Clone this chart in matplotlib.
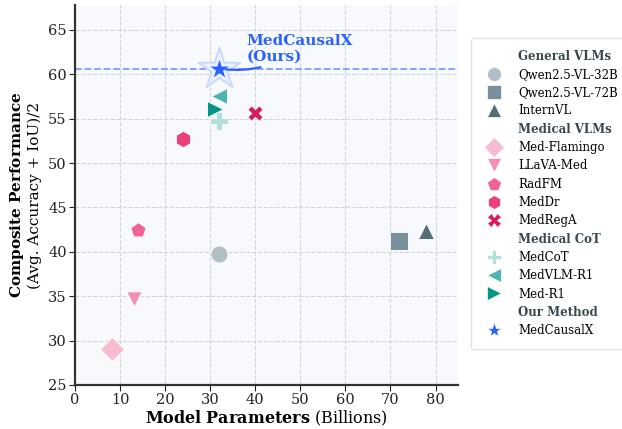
import matplotlib
matplotlib.use("Agg")
import matplotlib.pyplot as plt
from matplotlib.lines import Line2D

# data
groups = ["General VLMs", "Medical VLMs", "Medical CoT", "Our Method"]
models = [
    ["Qwen2.5-VL-32B", "Qwen2.5-VL-72B", "InternVL"],
    ["Med-Flamingo", "LLaVA-Med", "RadFM", "MedDr", "MedRegA"],
    ["MedCoT", "MedVLM-R1", "Med-R1"],
    ["MedCausalX"],
]
params = [
    [32, 72, 78],
    [8.3, 13, 14, 24, 40],
    [32, 32, 31],
    [32],
]
scores = [
    [39.8, 41.2, 42.3],
    [29.1, 34.7, 42.5, 52.7, 55.6],
    [54.8, 57.6, 56.1],
    [60.6],
]
markers = [
    ["o", "s", "^"],
    ["D", "v", "p", "h", "X"],
    ["P", "<", ">"],
    ["*"],
]
colors = [
    ["#b0bec5", "#78909c", "#546e7a"],
    ["#f8bbd0", "#f48fb1", "#f06292", "#ec407a", "#d81b60"],
    ["#b2dfdb", "#4db6ac", "#009688"],
    ["#2962ff"],
]
sizes = {"o": 150, "s": 150, "^": 130, "D": 150, "v": 120, "p": 130,
         "h": 140, "X": 120, "P": 150, "<": 130, ">": 130, "*": 260}

plt.rcParams['font.family'] = 'serif'
plt.rcParams['font.serif'] = ['DejaVu Serif']
plt.rcParams['mathtext.fontset'] = 'dejavuserif'

fig = plt.figure(figsize=(6.22, 4.29), dpi=100)
ax = fig.add_axes([0.1206, 0.1026, 0.6158, 0.8854])
ax.set_facecolor("#f8f9fc")

best = scores[3][0]
ax.axhline(best, color="#5c85ff", ls="--", lw=1.3, alpha=0.8, zorder=1)

# halo behind our star
ax.scatter(params[3], scores[3], marker="*", s=1000, color="#e8eeff",
           edgecolor="#c5d5ff", linewidth=1.2, zorder=2)

handles = []
labels = []
for g, grp in enumerate(groups):
    handles.append(Line2D([], [], linestyle="none", marker=None))
    labels.append(grp)
    for i, name in enumerate(models[g]):
        m = markers[g][i]
        ax.scatter(params[g][i], scores[g][i], marker=m, s=sizes[m],
                   color=colors[g][i], edgecolor="white", linewidth=0.6,
                   zorder=3)
        handles.append(Line2D([], [], linestyle="none", marker=m,
                              markersize=10 if m != "*" else 11,
                              color=colors[g][i], markeredgecolor="white",
                              markeredgewidth=0.5))
        labels.append(name)

ax.annotate("MedCausalX\n(Ours)", xy=(params[3][0] + 0.8, best),
            xytext=(38.0, 61.2), color="#2962ff", fontsize=11,
            fontweight="bold", ha="left", va="bottom",
            arrowprops=dict(arrowstyle="-", color="#2962ff", lw=1.6,
                            connectionstyle="arc3,rad=-0.2"),
            zorder=4)

ax.set_xlim(0, 85)
ax.set_ylim(25, 67.8)
ax.set_xticks(range(0, 90, 10))
ax.set_yticks(range(25, 70, 5))
ax.grid(True, ls="--", color="#cfd6dc", lw=0.8, zorder=0)
ax.set_axisbelow(True)
for s in ["top", "right"]:
    ax.spines[s].set_visible(False)
for s in ["left", "bottom"]:
    ax.spines[s].set_color("#333333")
    ax.spines[s].set_linewidth(1.6)
ax.tick_params(labelsize=10.5, colors="#222222", length=4, pad=2)

ax.set_xlabel(r"$\bf{Model\ Parameters}$ (Billions)", fontsize=11.5,
              labelpad=1)
ax.set_ylabel(r"$\bf{Composite\ Performance}$" + "\n(Avg. Accuracy + IoU)/2",
              fontsize=11)

leg = fig.legend(handles, labels, loc="upper left",
                 bbox_to_anchor=(0.757, 0.912), fontsize=8.5,
                 frameon=True, labelspacing=0.45, handletextpad=1.0,
                 borderpad=1.0, borderaxespad=0)
leg.get_frame().set_edgecolor("#dddddd")
leg.get_frame().set_facecolor("white")
for t in leg.get_texts():
    if t.get_text() in groups:
        t.set_fontweight("bold")
        t.set_color("#37474f")

fig.savefig("out.png", dpi=100)
